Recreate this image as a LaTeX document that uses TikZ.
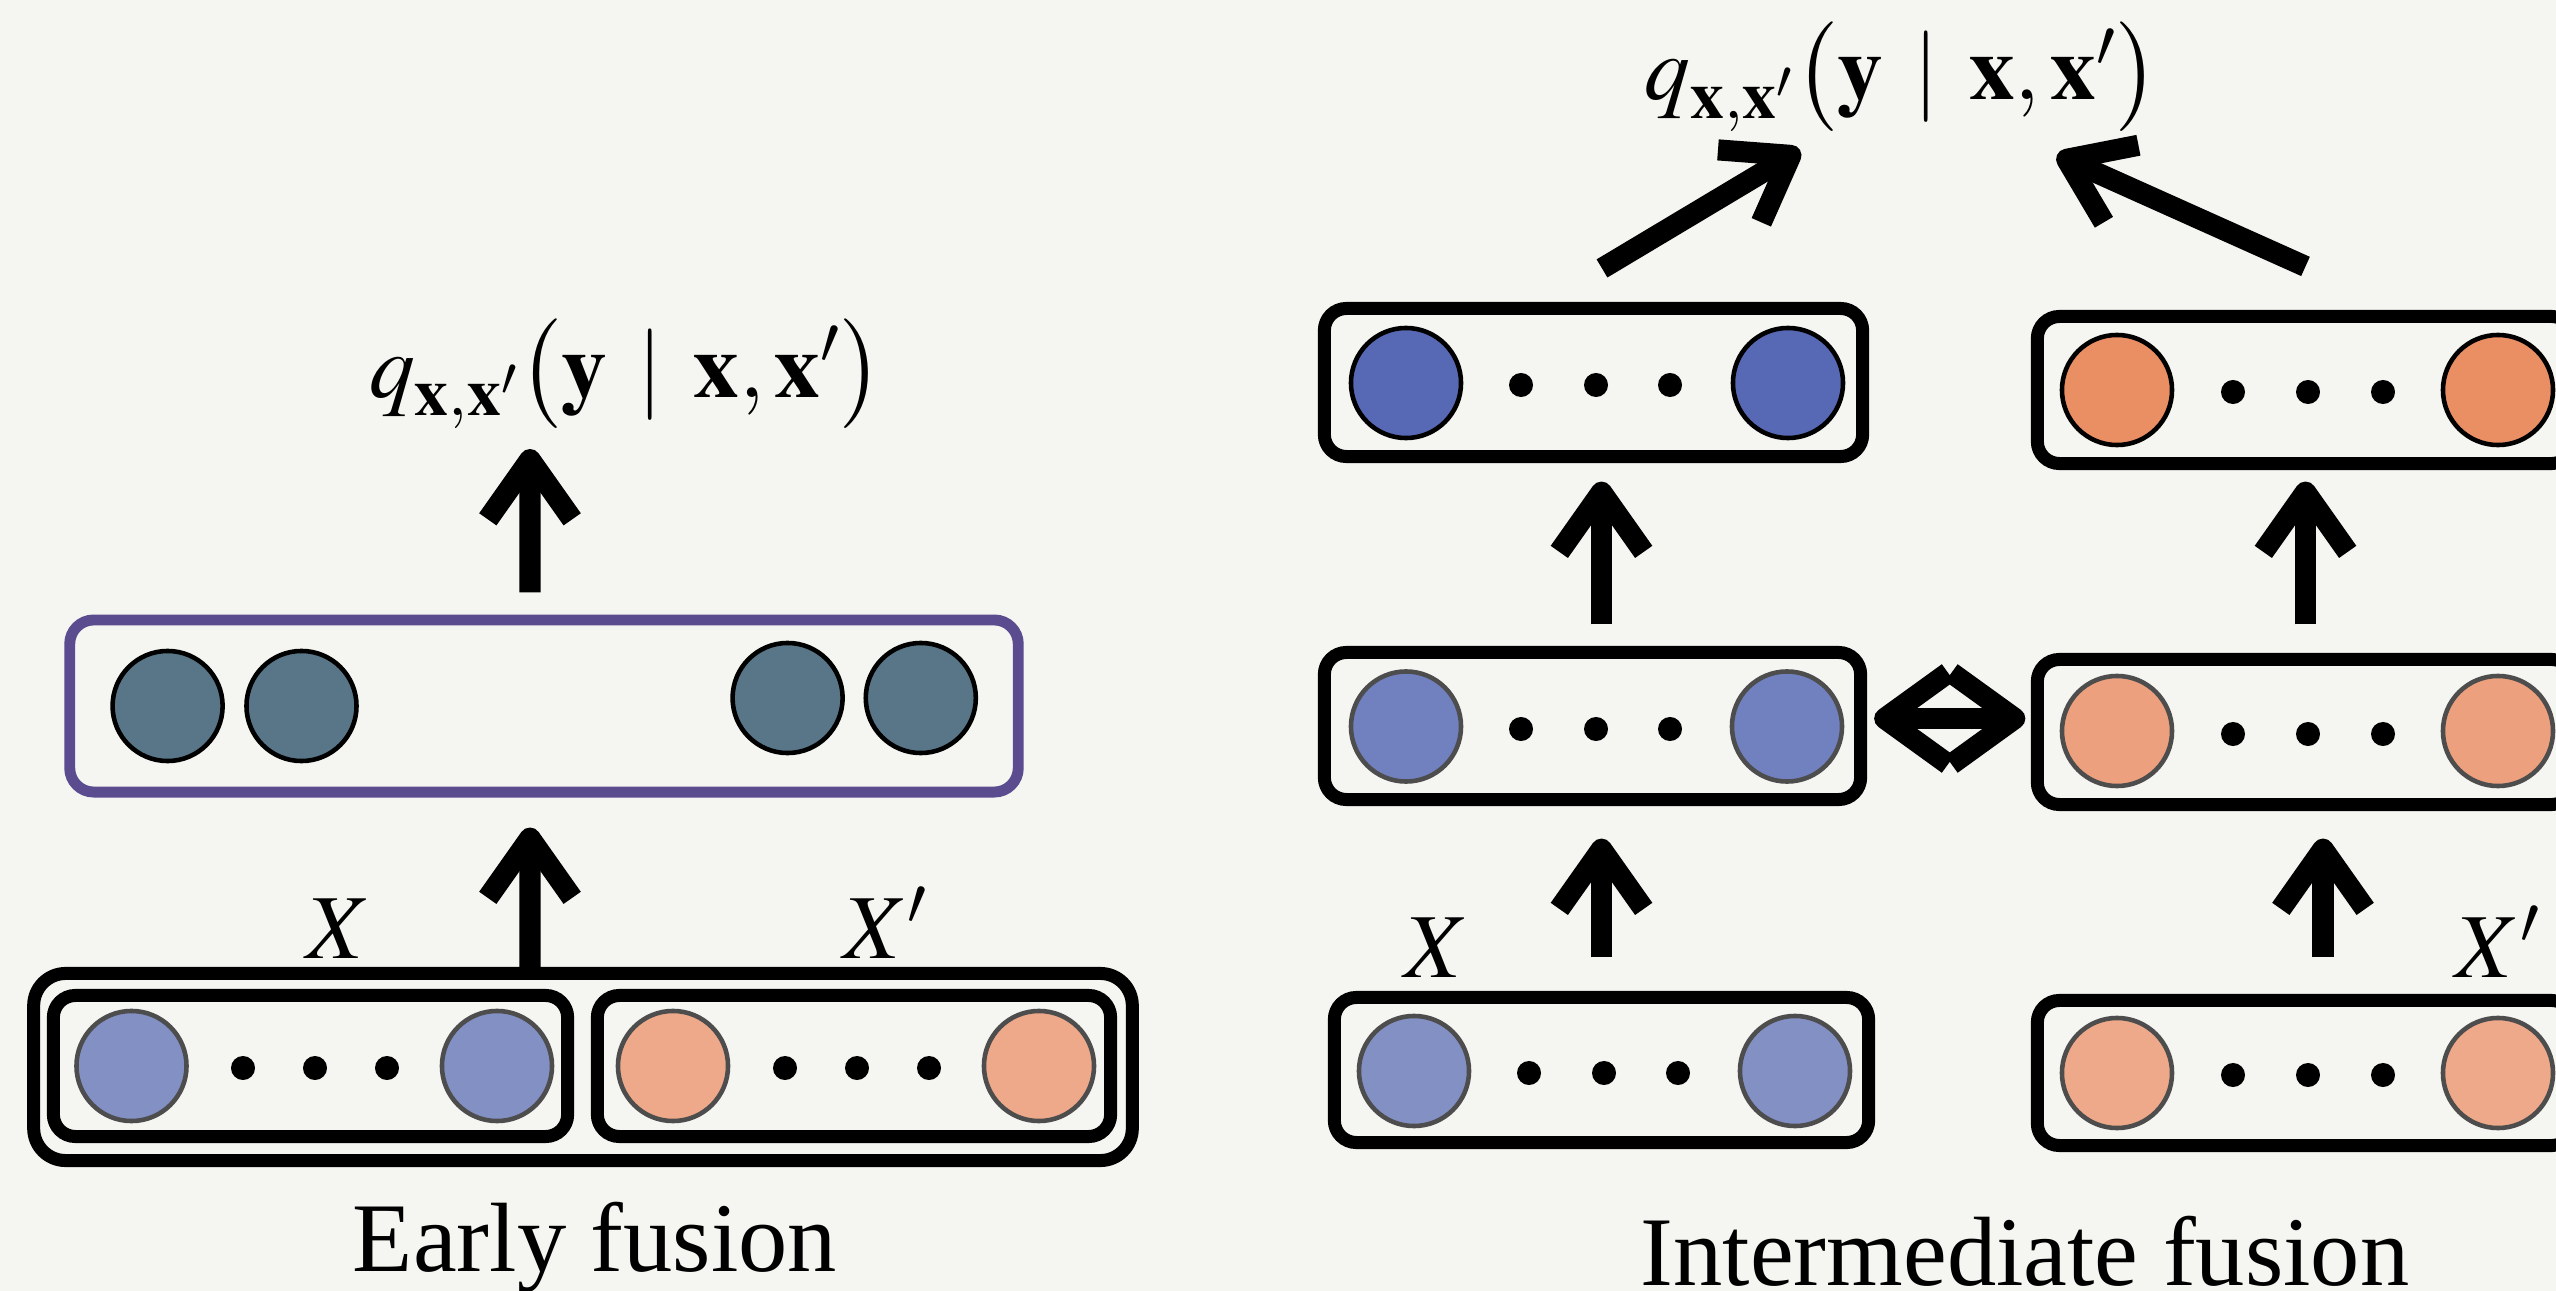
\documentclass[tikz,border=0pt]{standalone}
\usepackage{mathptmx}
\usepackage{fontspec}
\setmainfont{Liberation Serif}
\usepackage{tikz}
\usetikzlibrary{arrows.meta,positioning}

\definecolor{bgc}{HTML}{F5F6F1}
\definecolor{blueA}{HTML}{8390C4}
\definecolor{blueB}{HTML}{7180BE}
\definecolor{blueC}{HTML}{5769B4}
\definecolor{orA}{HTML}{EEA98A}
\definecolor{orB}{HTML}{ECA07E}
\definecolor{orC}{HTML}{EA8F64}
\definecolor{fusec}{HTML}{587688}
\definecolor{purp}{HTML}{5B4B8F}
\definecolor{ringc}{HTML}{4D4D4D}

\begin{document}
\begin{tikzpicture}[
  x=0.01cm, y=-0.01cm,
  box/.style={draw, line width=3.7pt, rounded corners=0.22cm, inner sep=0pt, minimum width=5.36cm, minimum height=1.45cm},
  unit/.style={circle, draw=ringc, line width=1.3pt, minimum size=1.1cm, inner sep=0pt},
  dotn/.style={circle, fill=black, minimum size=0.24cm, inner sep=0pt},
  a/.style={-{Straight Barb[length=17pt, width=24pt, line join=round, line cap=butt]}, line width=6pt},
  aa/.style={{Straight Barb[length=18pt, width=26pt, line join=round, line cap=butt]}-{Straight Barb[length=18pt, width=26pt, line join=round, line cap=butt]}, line width=6pt},
  lbl/.style={font=\fontsize{26}{30}\selectfont, inner sep=0pt, anchor=base},
  capt/.style={font=\fontsize{28}{32}\selectfont, inner sep=0pt, anchor=base}
]
  \useasboundingbox (0,0) rectangle (2556,1291);
  \clip (0,0) rectangle (2556,1291);
  \fill[bgc] (0,0) rectangle (2556,1291);

  % early fusion
  \node[box, minimum width=10.98cm, minimum height=1.87cm, rounded corners=0.32cm] (early) at (583,1067) {};
  \node[box, minimum width=5.14cm, minimum height=1.41cm] (xin) at (310.5,1066) {};
  \node[box, minimum width=5.13cm, minimum height=1.41cm] (xpin) at (854,1066) {};
  \node[box, draw=purp, line width=3.1pt, minimum width=9.48cm, minimum height=1.72cm, rounded corners=0.24cm] (fused) at (544,706) {};

  \node[unit, fill=blueA] (xin1) at (131.5,1066) {};
  \node[unit, fill=blueA] (xin2) at (497,1066) {};
  \node[unit, fill=orA] (xpin1) at (673,1066) {};
  \node[unit, fill=orA] (xpin2) at (1039,1066) {};
  \foreach \x in {243,315,387,785,857,929}
    \node[dotn] (de\x) at (\x,1068) {};
  \foreach \x/\y [count=\i] in {167.6/706, 301.5/706, 787.6/698, 920.8/698}
    \node[unit, draw=black, fill=fusec] (f\i) at (\x,\y) {};

  \node[lbl] (qearly) at (626,397) {$q_{\mathbf{x},\mathbf{x}'}\bigl(\mathbf{y}\,\mid\,\mathbf{x},\mathbf{x}'\bigr)$};
  \node[lbl] (lx) at (338.5,958) {$X$};
  \node[lbl] (lxp) at (885.5,958) {$X'$};
  \node[capt] (earlycap) at (595,1271) {Early fusion};

  \coordinate (qeIn) at (530,449);
  \draw[a, shorten >=0.3cm] ([xshift=-0.53cm]early.north) -- ([xshift=-0.14cm]fused.south);
  \draw[a, shorten <=0.22cm] ([xshift=-0.14cm]fused.north) -- (qeIn);

  % intermediate fusion
  \node[box, minimum width=5.38cm, minimum height=1.48cm] (xa3) at (1593.5,382.5) {};
  \node[box, minimum height=1.47cm] (xa2) at (1592.5,726) {};
  \node[box, minimum width=5.34cm] (xa1) at (1601.5,1070) {};
  \node[box, minimum height=1.47cm] (xb3) at (2305.5,390) {};
  \node[box] (xb2) at (2305.5,732) {};
  \node[box] (xb1) at (2305.5,1073) {};

  \node[unit, draw=black, fill=blueC] (a31) at (1406,383) {};
  \node[unit, draw=black, fill=blueC] (a32) at (1788,383) {};
  \node[unit, draw=black, fill=orC] (b31) at (2117,390) {};
  \node[unit, draw=black, fill=orC] (b32) at (2498,390) {};
  \node[unit, fill=blueB] (a21) at (1406,726.5) {};
  \node[unit, fill=blueB] (a22) at (1787,726.5) {};
  \node[unit, fill=orB] (b21) at (2117,731) {};
  \node[unit, fill=orB] (b22) at (2498,731) {};
  \node[unit, fill=blueA] (a11) at (1414,1071) {};
  \node[unit, fill=blueA] (a12) at (1795,1071) {};
  \node[unit, fill=orA] (b11) at (2117,1073) {};
  \node[unit, fill=orA] (b12) at (2498,1073) {};
  \foreach \x [count=\i] in {1521,1596,1670} {
    \node[dotn] (da3-\i) at (\x,385) {};
    \node[dotn] (da2-\i) at (\x,729) {};
    \node[dotn] (da1-\i) at (\x+8,1073) {};
  }
  \foreach \x [count=\i] in {2233,2308,2383} {
    \node[dotn] (db3-\i) at (\x,392) {};
    \node[dotn] (db2-\i) at (\x,734) {};
    \node[dotn] (db1-\i) at (\x,1075) {};
  }

  \node[lbl] (qinter) at (1901.5,100) {$q_{\mathbf{x},\mathbf{x}'}\bigl(\mathbf{y}\,\mid\,\mathbf{x},\mathbf{x}'\bigr)$};
  \node[lbl] (rx) at (1437,977) {$X$};
  \node[lbl] (rxp) at (2498,977) {$X'$};
  \node[capt] (intercap) at (2025,1285) {Intermediate fusion};

  \coordinate (qiL) at (1800,150);
  \coordinate (qiR) at (2057,155);
  \draw[a, shorten <=0.335cm, shorten >=0.325cm] (xa1.north) -- (xa1.north |- xa2.south);
  \draw[a, shorten <=0.215cm, shorten >=0.185cm] (xa2.north -| xa1.north) -- (xa3.south -| xa1.north);
  \draw[a, shorten <=0.365cm, shorten >=0.275cm] ([xshift=0.175cm]xb1.north) -- ([xshift=0.175cm]xb2.south);
  \draw[a, shorten <=0.285cm, shorten >=0.115cm] (xb2.north) -- (xb3.south);
  \draw[a] ([xshift=0.085cm, yshift=0.335cm]xa3.north) -- (qiL);
  \draw[a] ([yshift=0.435cm]xb3.north) -- (qiR);
  \draw[aa] ([xshift=0.07cm, yshift=0.075cm]xa2.east) -- ([xshift=-0.055cm, yshift=0.075cm]xa2.east -| xb2.west);
\end{tikzpicture}
\end{document}
